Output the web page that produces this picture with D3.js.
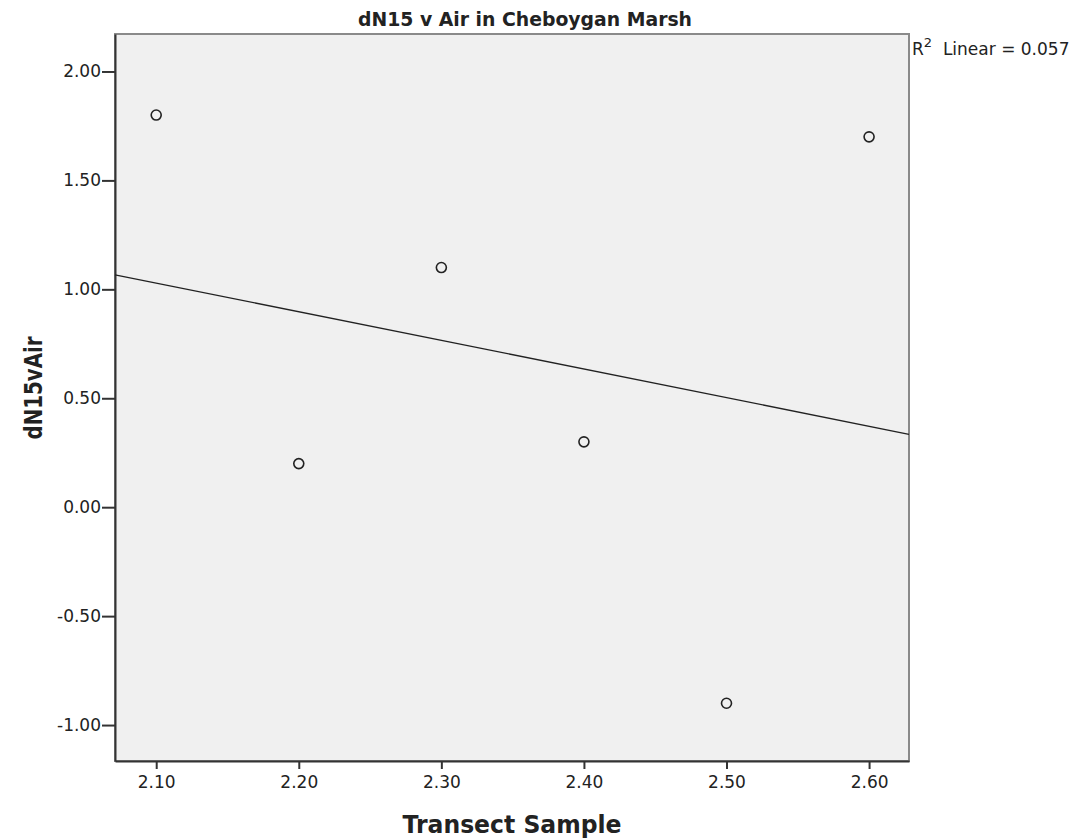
<!DOCTYPE html>
<html>
<head>
<meta charset="utf-8">
<script src="https://cdn.jsdelivr.net/npm/d3@7"></script>
<style>
  body { margin: 0; background: #fff; }
  text { font-family: "DejaVu Sans", sans-serif; fill: #222; }
</style>
</head>
<body>
<div id="chart-area"></div>
<script>
// data
var transect = [2.10, 2.20, 2.30, 2.40, 2.50, 2.60];
var dN15 = [1.80, 0.20, 1.10, 0.30, -0.90, 1.70];
var xTicks = [2.10, 2.20, 2.30, 2.40, 2.50, 2.60];
var yTicks = [-1.00, -0.50, 0.00, 0.50, 1.00, 1.50, 2.00];

var W = 1079, H = 839;
var plotL = 115, plotR = 909, plotT = 34, plotB = 761;

var svg = d3.select("#chart-area").append("svg")
  .attr("width", W)
  .attr("height", H);

var x = d3.scaleLinear().domain([2.0711, 2.628]).range([plotL, plotR]);
var y = d3.scaleLinear().domain([-1.165, 2.172]).range([plotB, plotT]);

// plot background
svg.append("rect")
  .attr("x", plotL).attr("y", plotT)
  .attr("width", plotR - plotL).attr("height", plotB - plotT)
  .attr("fill", "#f0f0f0")
  .attr("stroke", "#8a8a8a")
  .attr("stroke-width", 2);

// axes
var fmt = d3.format(".2f");
var xAxis = svg.append("g")
  .attr("transform", "translate(0," + plotB + ")")
  .call(d3.axisBottom(x).tickValues(xTicks).tickFormat(fmt).tickSize(8).tickSizeOuter(0));
var yAxis = svg.append("g")
  .attr("transform", "translate(" + plotL + ",0)")
  .call(d3.axisLeft(y).tickValues(yTicks).tickFormat(d => fmt(d).replace("−", "-")).tickSize(13).tickSizeOuter(0));

[xAxis, yAxis].forEach(function (g) {
  g.select(".domain").attr("stroke", "#333").attr("stroke-width", 2);
  g.selectAll(".tick line").attr("stroke", "#333").attr("stroke-width", 2);
  g.selectAll(".tick text").style("font-size", "17px").attr("fill", "#333");
});
xAxis.selectAll(".tick text").attr("y", 11).attr("dy", "0.95em");
yAxis.selectAll(".tick text").attr("x", -14);

// linear fit
var mx = d3.mean(transect), my = d3.mean(dN15);
var sxy = d3.sum(transect, (d, i) => (d - mx) * (dN15[i] - my));
var sxx = d3.sum(transect, d => (d - mx) * (d - mx));
var syy = d3.sum(dN15, d => (d - my) * (d - my));
var slope = sxy / sxx, icept = my - slope * mx;
var r2 = sxy * sxy / (sxx * syy);

var x0 = x.domain()[0], x1 = x.domain()[1];
svg.append("line")
  .attr("x1", x(x0)).attr("y1", y(icept + slope * x0))
  .attr("x2", x(x1)).attr("y2", y(icept + slope * x1))
  .attr("stroke", "#222")
  .attr("stroke-width", 1.3);

// points
svg.selectAll("circle.pt").data(transect)
  .enter()
  .append("circle")
  .attr("class", "pt")
  .attr("cx", d => x(d))
  .attr("cy", (d, i) => y(dN15[i]))
  .attr("r", 5)
  .attr("fill", "none")
  .attr("stroke", "#222")
  .attr("stroke-width", 1.6);

// titles
svg.append("text")
  .attr("x", 525).attr("y", 26)
  .attr("text-anchor", "middle")
  .attr("textLength", 334).attr("lengthAdjust", "spacingAndGlyphs")
  .style("font-size", "20px").style("font-weight", "bold")
  .text("dN15 v Air in Cheboygan Marsh");

svg.append("text")
  .attr("x", 512).attr("y", 833)
  .attr("text-anchor", "middle")
  .attr("textLength", 219).attr("lengthAdjust", "spacingAndGlyphs")
  .style("font-size", "25px").style("font-weight", "bold")
  .text("Transect Sample");

svg.append("text")
  .attr("transform", "translate(42,388) rotate(-90)")
  .attr("text-anchor", "middle")
  .attr("textLength", 103).attr("lengthAdjust", "spacingAndGlyphs")
  .style("font-size", "25px").style("font-weight", "bold")
  .text("dN15vAir");

var r2Text = svg.append("text")
  .attr("x", plotR + 3).attr("y", 55)
  .style("font-size", "17px");
r2Text.append("tspan").text("R");
r2Text.append("tspan").attr("dy", -8).style("font-size", "13px").text("2");
r2Text.append("tspan").attr("dy", 8).text("\u00a0 Linear = " + d3.format(".3f")(r2));
</script>
</body>
</html>
